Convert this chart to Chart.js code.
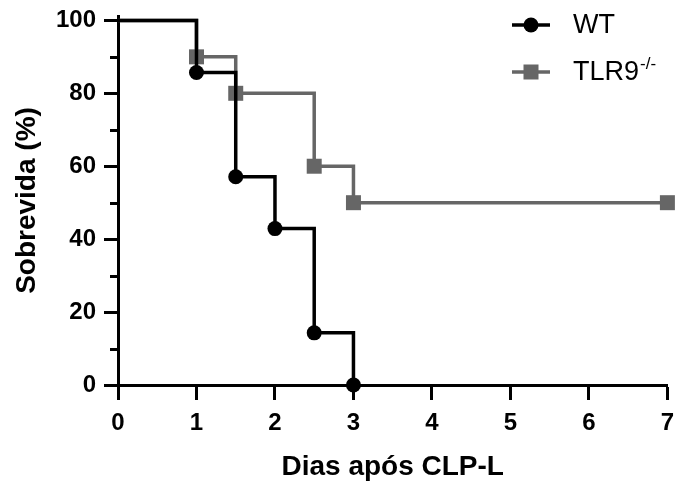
<!DOCTYPE html>
<html>
<head>
<meta charset="utf-8">
<script src="https://cdn.jsdelivr.net/npm/chart.js@4/dist/chart.umd.min.js"></script>
<style>
  html, body { margin: 0; padding: 0; background: #fff; }
  #wrap { width: 678px; height: 489px; position: relative; }
</style>
</head>
<body>
<div id="wrap"><canvas id="c" width="678" height="489"></canvas></div>
<script>
// ---- data ----
const seriesNames = ['WT', 'TLR9'];
const daysWT = [0, 1, 1.5, 2, 2.5, 3];
const survivalWT = [100, 85.7, 57.1, 42.9, 14.3, 0];
const daysTLR9 = [0, 1, 1.5, 2.5, 3, 7];
const survivalTLR9 = [100, 90, 80, 60, 50, 50];
const xTickValues = [0, 1, 2, 3, 4, 5, 6, 7];
const yTickValues = [0, 20, 40, 60, 80, 100];
const yMinorTickValues = [10, 30, 50, 70, 90];
const xTitle = 'Dias após CLP-L';
const yTitle = 'Sobrevida (%)';

const FONT = "'Liberation Sans', Arial, sans-serif";
const GRAY = '#666666';

const toPoints = (xs, ys) => xs.map((x, i) => ({ x: x, y: ys[i] }));
const markerRadii = (xs, r) => xs.map((x, i) => (i === 0 ? 0 : r));

// minor ticks on y axis
const minorTicks = {
  id: 'minorTicks',
  afterDraw(chart) {
    const y = chart.scales.y;
    const ctx = chart.ctx;
    const x0 = chart.chartArea.left;
    ctx.save();
    ctx.strokeStyle = '#000';
    ctx.lineWidth = 3;
    yMinorTickValues.forEach(v => {
      const py = Math.round(y.getPixelForValue(v)) + 0.5;
      ctx.beginPath();
      ctx.moveTo(x0 - 8, py);
      ctx.lineTo(x0, py);
      ctx.stroke();
    });
    ctx.restore();
  }
};

// custom legend (line + marker + text with superscript)
const customLegend = {
  id: 'customLegend',
  afterDraw(chart) {
    const ctx = chart.ctx;
    ctx.save();
    const rows = [
      { y: 25, color: '#000', marker: 'circle', text: seriesNames[0], sup: '' },
      { y: 72, color: GRAY, marker: 'rect', text: seriesNames[1], sup: '-/-' }
    ];
    rows.forEach(r => {
      ctx.strokeStyle = r.color;
      ctx.fillStyle = r.color;
      ctx.lineWidth = 3.5;
      ctx.beginPath();
      ctx.moveTo(512, r.y);
      ctx.lineTo(550, r.y);
      ctx.stroke();
      if (r.marker === 'circle') {
        ctx.beginPath();
        ctx.arc(531, r.y, 7.5, 0, Math.PI * 2);
        ctx.fill();
      } else {
        ctx.fillRect(531 - 7.5, r.y - 7.5, 15, 15);
      }
      ctx.fillStyle = '#000';
      ctx.font = '27px ' + FONT;
      ctx.textBaseline = 'middle';
      ctx.textAlign = 'left';
      ctx.fillText(r.text, 573, r.y + 1);
      if (r.sup) {
        const w = ctx.measureText(r.text).width;
        ctx.font = '17px ' + FONT;
        ctx.fillText(r.sup, 573 + w + 1, r.y - 8);
      }
    });
    ctx.restore();
  }
};

new Chart(document.getElementById('c'), {
  type: 'line',
  data: {
    datasets: [
      {
        label: seriesNames[0],
        data: toPoints(daysWT, survivalWT),
        stepped: 'before',
        borderColor: '#000',
        backgroundColor: '#000',
        borderWidth: 3.5,
        pointStyle: 'circle',
        pointRadius: markerRadii(daysWT, 7.5),
        pointBorderWidth: 0,
        fill: false
      },
      {
        label: seriesNames[1],
        data: toPoints(daysTLR9, survivalTLR9),
        stepped: 'before',
        borderColor: GRAY,
        backgroundColor: GRAY,
        borderWidth: 3.5,
        pointStyle: 'rect',
        pointRadius: markerRadii(daysTLR9, 10.6),
        pointBorderWidth: 0,
        fill: false
      }
    ]
  },
  options: {
    responsive: false,
    animation: false,
    events: [],
    clip: false,
    layout: { padding: { top: 16, right: 10, left: 0, bottom: 0 } },
    plugins: {
      legend: { display: false },
      tooltip: { enabled: false }
    },
    scales: {
      x: {
        type: 'linear',
        min: 0,
        max: 7,
        afterBuildTicks: s => { s.ticks = xTickValues.map(v => ({ value: v })); },
        afterFit: s => { s.height = 104; s.paddingLeft = 0; s.paddingRight = 0; },
        ticks: {
          color: '#000',
          font: { family: FONT, size: 24, weight: 'bold' },
          padding: 9,
          maxRotation: 0
        },
        grid: {
          display: true,
          drawOnChartArea: false,
          drawTicks: true,
          tickLength: 15,
          tickWidth: 3,
          tickColor: '#000'
        },
        border: { display: true, width: 3, color: '#000' },
        title: {
          display: true,
          text: xTitle,
          color: '#000',
          font: { family: FONT, size: 28, weight: 'bold' },
          padding: { top: 0, bottom: 5 }
        }
      },
      y: {
        type: 'linear',
        min: 0,
        max: 101.2,
        afterBuildTicks: s => { s.ticks = yTickValues.map(v => ({ value: v })); },
        afterFit: s => { s.width = 118; s.paddingTop = 0; s.paddingBottom = 0; },
        ticks: {
          color: '#000',
          font: { family: FONT, size: 24, weight: 'bold' },
          padding: 8
        },
        grid: {
          display: true,
          drawOnChartArea: false,
          drawTicks: true,
          tickLength: 14,
          tickWidth: 3,
          tickColor: '#000'
        },
        border: { display: true, width: 3, color: '#000' },
        title: {
          display: true,
          text: yTitle,
          color: '#000',
          font: { family: FONT, size: 28, weight: 'bold' },
          padding: { top: 10, bottom: 4 }
        }
      }
    }
  },
  plugins: [minorTicks, customLegend]
});
</script>
</body>
</html>
